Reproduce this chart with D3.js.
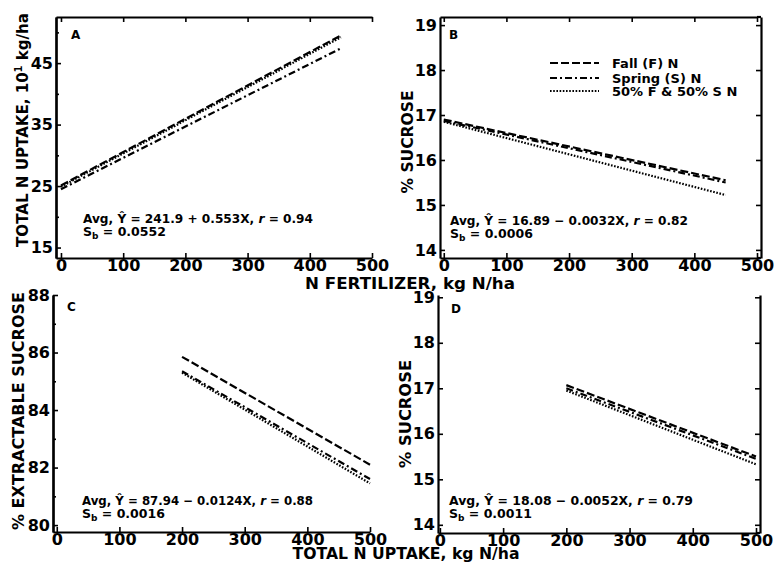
<!DOCTYPE html>
<html>
<head>
<meta charset="utf-8">
<script src="https://cdn.jsdelivr.net/npm/d3@7"></script>
<style>
body { margin: 0; background: #fff; }
svg { display: block; }
text { font-family: "DejaVu Sans", sans-serif; fill: #000; }
</style>
</head>
<body>
<svg id="fig" width="775" height="567"></svg>
<script>
/*
    data
*/
var seriesNames = ["Fall (F) N", "Spring (S) N", "50% F & 50% S N"];
var nRateX = [0, 450];       // panels A, B : N fertilizer
var uptakeX = [200, 500];    // panels C, D : total N uptake

var uptakeFall = [25.1, 49.5], uptakeSpring = [24.5, 47.4], uptakeMix = [24.9, 49.2];
var sucBFall = [16.9, 15.55], sucBSpring = [16.87, 15.5], sucBMix = [16.85, 15.22];
var extFall = [85.85, 82.1], extSpring = [85.35, 81.6], extMix = [85.3, 81.45];
var sucDFall = [17.07, 15.5], sucDSpring = [17.0, 15.45], sucDMix = [16.95, 15.33];

var xTicks = [0, 100, 200, 300, 400, 500];
var uptakeTicks = [15, 25, 35, 45], uptakeMinor = [20, 30, 40, 50];
var sucTicks = [14, 15, 16, 17, 18, 19];
var extTicks = [80, 82, 84, 86, 88], extMinor = [81, 83, 85, 87];

var dashes = ["8,3", "7,3,2,3", "1.6,1.6"];

var svg = d3.select("#fig");
svg.append("rect").attr("width", 775).attr("height", 567).attr("fill", "#fff");

function drawPanel(p){
    var x = d3.scaleLinear().domain(p.xd).range(p.xr);
    var y = d3.scaleLinear().domain(p.yd).range(p.yr);
    var g = svg.append("g");
    var xEnd = p.frameRight || p.xr[1];

    // left + bottom axes, ticks pointing inward
    var yAxis = d3.axisLeft(y).tickValues(p.yTicks).tickSize(-5).tickSizeOuter(0).tickPadding(3).tickFormat(d3.format("d"))
    g.append("g").attr("transform", "translate(" + p.xr[0] + ",0)").call(yAxis)
    var xAxis = d3.axisBottom(x).tickValues(xTicks).tickSize(-5).tickSizeOuter(0).tickPadding(2).tickFormat(d3.format("d"))
    g.append("g").attr("transform", "translate(0," + p.yr[0] + ")").call(xAxis)
    g.append("line").attr("class", "domain")
        .attr("x1", p.xr[1]).attr("x2", xEnd).attr("y1", p.yr[0]).attr("y2", p.yr[0])

    if(p.yMinor){
        g.append("g").attr("transform", "translate(" + p.xr[0] + ",0)")
            .call(d3.axisLeft(y).tickValues(p.yMinor).tickSize(-3).tickSizeOuter(0).tickFormat(""))
    }
    if(p.top){
        g.append("g").attr("transform", "translate(0," + p.yr[1] + ")")
            .call(d3.axisTop(x).tickValues(xTicks).tickSize(-5).tickSizeOuter(0).tickFormat(""))
        g.append("line").attr("class", "domain")
            .attr("x1", p.xr[1]).attr("x2", xEnd).attr("y1", p.yr[1]).attr("y2", p.yr[1])
    }
    if(p.right){
        g.append("g").attr("transform", "translate(" + xEnd + ",0)")
            .call(d3.axisRight(y).tickValues(p.yTicks).tickSize(-5).tickSizeOuter(0).tickFormat(""))
    }

    g.selectAll(".domain").attr("stroke", "#000").attr("stroke-width", 2.2)
    g.selectAll(".tick line").attr("stroke", "#000").attr("stroke-width", 1.6)
    g.selectAll(".tick text")
        .style("font-family", "DejaVu Sans").style("font-size", "16px").style("font-weight", "bold")

    // regression lines
    p.series.forEach(function(s, i){
        g.append("line")
            .attr("x1", x(p.lineX[0])).attr("y1", y(s[0]))
            .attr("x2", x(p.lineX[1])).attr("y2", y(s[1]))
            .attr("stroke", "#000")
            .attr("stroke-width", 2.2)
            .attr("stroke-dasharray", dashes[i])
    });

    g.append("text").text(p.letter)
        .attr("x", p.letterPos[0]).attr("y", p.letterPos[1])
        .style("font-size", "12px").style("font-weight", "bold")

    // equation
    var eq = g.append("text")
        .attr("x", p.eqPos[0]).attr("y", p.eqPos[1])
        .attr("textLength", p.eqLen).attr("lengthAdjust", "spacingAndGlyphs")
        .style("font-size", "12.5px").style("font-weight", "bold")
    eq.append("tspan").text(p.eq[0])
    eq.append("tspan").style("font-style", "italic").text("r")
    eq.append("tspan").text(p.eq[1])
    var sb = g.append("text")
        .attr("x", p.eqPos[0]).attr("y", p.eqPos[1] + 13)
        .style("font-size", "12.5px").style("font-weight", "bold")
    sb.append("tspan").text("S")
    sb.append("tspan").attr("dy", 3).style("font-size", "9px").text("b")
    sb.append("tspan").attr("dy", -3).text(" = " + p.sb)

    // y title
    var yt = g.append("text")
        .attr("transform", "translate(" + p.yTitle[0] + "," + p.yTitle[1] + ") rotate(-90)")
        .attr("text-anchor", "middle")
        .attr("textLength", p.yTitle[2]).attr("lengthAdjust", "spacingAndGlyphs")
        .style("font-size", "16px").style("font-weight", "bold")
    p.yLabel.forEach(function(part){
        var t = yt.append("tspan").text(part.t)
        if(part.sup) t.attr("dy", -6).style("font-size", "10px")
        if(part.back) t.attr("dy", 6)
    });
    return {x: x, y: y, g: g};
}

var A = drawPanel({
    xd: [-8, 500], xr: [56, 372], yd: [13.3, 52.5], yr: [258, 17],
    yTicks: uptakeTicks, yMinor: uptakeMinor, top: true,
    lineX: nRateX, series: [uptakeFall, uptakeSpring, uptakeMix],
    letter: "A", letterPos: [71, 39],
    eq: ["Avg, \u0176 = 241.9 + 0.553X, ", " = 0.94"], eqPos: [83, 223], eqLen: 230, sb: "0.0552",
    yTitle: [28, 130, 234],
    yLabel: [{t: "TOTAL N UPTAKE, 10"}, {t: "1", sup: true}, {t: " kg/ha", back: true}]
});
var B = drawPanel({
    xd: [-6, 500], xr: [440, 757], frameRight: 761, yd: [13.82, 19.18], yr: [258, 17],
    yTicks: sucTicks, top: true, right: true,
    lineX: nRateX, series: [sucBFall, sucBSpring, sucBMix],
    letter: "B", letterPos: [449, 39],
    eq: ["Avg, \u0176 = 16.89 \u2212 0.0032X, ", " = 0.82"], eqPos: [450, 225], eqLen: 238, sb: "0.0006",
    yTitle: [413, 142, 103],
    yLabel: [{t: "% SUCROSE"}]
});
var C = drawPanel({
    xd: [-6, 500], xr: [53, 370], yd: [79.76, 88], yr: [532, 295],
    yTicks: extTicks, yMinor: extMinor,
    lineX: uptakeX, series: [extFall, extSpring, extMix],
    letter: "C", letterPos: [67, 311],
    eq: ["Avg, \u0176 = 87.94 \u2212 0.0124X, ", " = 0.88"], eqPos: [82, 505], eqLen: 231, sb: "0.0016",
    yTitle: [24, 411, 238],
    yLabel: [{t: "% EXTRACTABLE SUCROSE"}]
});
var D = drawPanel({
    xd: [-3, 500], xr: [438, 756], frameRight: 760, yd: [13.82, 19.05], yr: [533, 295],
    yTicks: sucTicks, right: true,
    lineX: uptakeX, series: [sucDFall, sucDSpring, sucDMix],
    letter: "D", letterPos: [451, 313],
    eq: ["Avg, \u0176 = 18.08 \u2212 0.0052X, ", " = 0.79"], eqPos: [449, 505], eqLen: 244, sb: "0.0011",
    yTitle: [411, 414, 108],
    yLabel: [{t: "% SUCROSE"}]
});

// shared x titles
svg.append("text").text("N FERTILIZER, kg N/ha")
    .attr("x", 410).attr("y", 289).attr("text-anchor", "middle")
    .attr("textLength", 210).attr("lengthAdjust", "spacingAndGlyphs")
    .style("font-size", "15px").style("font-weight", "bold")
svg.append("text").text("TOTAL N UPTAKE, kg N/ha")
    .attr("x", 406).attr("y", 559).attr("text-anchor", "middle")
    .attr("textLength", 227).attr("lengthAdjust", "spacingAndGlyphs")
    .style("font-size", "15px").style("font-weight", "bold")

// legend (panel B)
var legY = [63, 78, 91];
var leg = svg.append("g")
seriesNames.forEach(function(name, i){
    leg.append("line")
        .attr("x1", 550).attr("x2", 599).attr("y1", legY[i]).attr("y2", legY[i])
        .attr("stroke", "#000").attr("stroke-width", 2.2).attr("stroke-dasharray", dashes[i])
    leg.append("text").text(name)
        .attr("x", 612).attr("y", legY[i] + 5)
        .style("font-size", "13px").style("font-weight", "bold")
});
</script>
</body>
</html>
